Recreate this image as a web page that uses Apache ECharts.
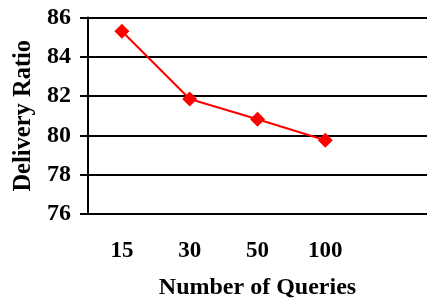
<!DOCTYPE html>
<html>
<head>
<meta charset="utf-8">
<script src="https://cdn.jsdelivr.net/npm/echarts@6/dist/echarts.min.js"></script>
<style>
html, body { margin: 0; padding: 0; background: #fff; }
#chart { width: 427px; height: 305px; }
</style>
</head>
<body>
<div id="chart"></div>
<script>
// data
const queries = ['15', '30', '50', '100'];
const deliveryRatio = [85.3, 81.85, 80.82, 79.75];
const yTicks = { min: 76, max: 86, step: 2 };

const serif = "'Liberation Serif', 'Times New Roman', serif";

const chart = echarts.init(document.getElementById('chart'), null, { renderer: 'canvas' });
chart.setOption({
    animation: false,
    grid: {
        left: 88,
        top: 17.5,
        width: 345.5, // 5 slots, the last one is left empty
        height: 198,
        containLabel: false,
    },
    xAxis: {
        type: 'category',
        data: queries,
        max: 4,
        boundaryGap: true,
        name: 'Number of Queries',
        nameLocation: 'middle',
        nameGap: 62,
        nameTextStyle: { fontFamily: serif, fontWeight: 'bold', fontSize: 24, color: '#000' },
        axisLine: { show: true, lineStyle: { color: '#000', width: 2 } },
        axisTick: { show: false },
        axisLabel: { fontFamily: serif, fontWeight: 'bold', fontSize: 23, color: '#000', margin: 26 },
        splitLine: { show: false },
    },
    yAxis: {
        type: 'value',
        min: yTicks.min,
        max: yTicks.max,
        interval: yTicks.step,
        name: 'Delivery Ratio',
        nameLocation: 'middle',
        nameGap: 52,
        nameTextStyle: { fontFamily: serif, fontWeight: 'bold', fontSize: 24.5, color: '#000' },
        axisLine: { show: true, lineStyle: { color: '#000', width: 2 } },
        axisTick: { show: true, length: 8, lineStyle: { color: '#000', width: 2 } },
        axisLabel: { fontFamily: serif, fontWeight: 'bold', fontSize: 24, color: '#000', margin: 17 },
        splitLine: { show: true, lineStyle: { color: '#000', width: 2 } },
    },
    series: [{
        type: 'line',
        data: deliveryRatio,
        symbol: 'diamond',
        symbolSize: 15,
        color: '#FF0000',
        lineStyle: { color: '#FF0000', width: 2 },
        itemStyle: { color: '#FF0000' },
    }],
});
</script>
</body>
</html>
